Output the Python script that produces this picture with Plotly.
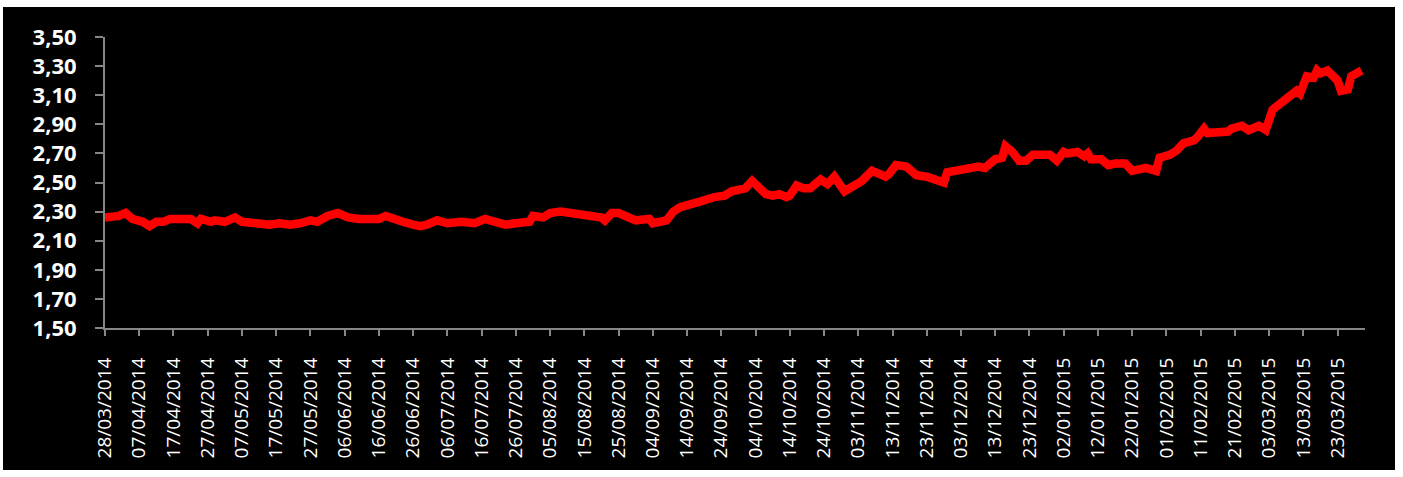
import datetime as dt
import plotly.graph_objects as go

# Series start date and day offsets of each observation
start = dt.date(2014, 3, 28)
day_offsets = [
    0, 4, 6, 8, 11, 13, 15, 17, 19, 25, 27, 28, 31, 32, 35, 38, 40, 44, 48, 51,
    54, 57, 60, 62, 65, 68, 71, 74, 80, 82, 84, 87, 90, 92,
    94, 97, 100, 104, 108, 111, 114, 117, 120, 124, 125, 128, 130, 133, 136, 140,
    145, 146, 148, 150, 155, 159, 160, 164, 166, 168, 172, 174, 178, 181, 183, 187,
    189, 191, 193, 195, 197, 199, 200, 202, 204, 206, 209, 211, 213, 216, 219, 221,
    224, 228, 229, 231, 234, 237, 240, 243, 245, 246, 250, 253, 255, 257, 260, 262,
    263, 265, 267, 269, 271, 276, 278, 280,
    281, 284, 286, 287, 288, 291, 293, 295, 298, 300, 304, 307, 308, 311, 313, 315,
    318, 319, 321, 322, 328, 329, 332, 334, 337, 339, 341, 343, 346, 348, 349, 351,
    353, 354, 355, 357, 360, 361, 363, 364, 367,
]
values = [
    2.26, 2.27, 2.29, 2.25, 2.23, 2.20, 2.23, 2.23, 2.25, 2.25, 2.22, 2.25, 2.23, 2.24, 2.23, 2.26, 2.23, 2.22, 2.21, 2.22,
    2.21, 2.22, 2.24, 2.23, 2.27, 2.29, 2.26, 2.25, 2.25, 2.27, 2.25, 2.23, 2.21, 2.20,
    2.21, 2.24, 2.22, 2.23, 2.22, 2.25, 2.23, 2.21, 2.22, 2.23, 2.27, 2.26, 2.29, 2.30, 2.29, 2.27,
    2.26, 2.24, 2.29, 2.29, 2.24, 2.25, 2.22, 2.24, 2.30, 2.33, 2.35, 2.37, 2.40, 2.41, 2.44, 2.46,
    2.51, 2.47, 2.42, 2.41, 2.42, 2.40, 2.41, 2.48, 2.46, 2.46, 2.52, 2.49, 2.54, 2.44, 2.48, 2.51,
    2.58, 2.54, 2.56, 2.62, 2.61, 2.55, 2.54, 2.52, 2.50, 2.57, 2.58, 2.60, 2.61, 2.60, 2.66, 2.67,
    2.75, 2.71, 2.65, 2.65, 2.69, 2.69, 2.65, 2.71,
    2.70, 2.71, 2.68, 2.70, 2.66, 2.66, 2.62, 2.63, 2.63, 2.58, 2.60, 2.58, 2.67, 2.69, 2.72, 2.77,
    2.79, 2.81, 2.87, 2.84, 2.85, 2.87, 2.89, 2.86, 2.89, 2.86, 3.00, 3.04, 3.09, 3.13, 3.11, 3.23,
    3.22, 3.27, 3.25, 3.27, 3.20, 3.13, 3.14, 3.23, 3.27,
]
dates = [start + dt.timedelta(days=d) for d in day_offsets]

# Axis settings
y_min, y_max, y_step = 1.5, 3.5, 0.2
x_end = start + dt.timedelta(days=368)
tick_days = 10

W, H = 1403, 477
ml, mr, mt, mb = 105, 38, 37, 149
pw, ph = W - ml - mr, H - mt - mb

fig = go.Figure()
fig.add_trace(go.Scatter(
    x=dates, y=values, mode="lines",
    line=dict(color="#FF0000", width=8.5),
    hoverinfo="skip",
))

# Black panel behind the chart, inset from the page edges
px0, px1, py0, py1 = 3, 1395, 7, 470
fig.add_shape(
    type="rect", xref="paper", yref="paper", layer="below",
    x0=(px0 - ml) / pw, x1=(px1 - ml) / pw,
    y0=(H - mb - py1) / ph, y1=(H - mb - py0) / ph,
    fillcolor="#000000", line=dict(width=0),
)

fig.update_layout(
    width=W, height=H,
    margin=dict(l=ml, r=mr, t=mt, b=mb, pad=0),
    paper_bgcolor="#FFFFFF", plot_bgcolor="#000000",
    separators=",.",
    showlegend=False,
    xaxis=dict(
        type="date", range=[start, x_end],
        tick0=start, dtick=tick_days * 86400000, tickformat="%d/%m/%Y",
        tickangle=-90, ticks="outside", ticklen=6, tickwidth=2, tickcolor="#868686",
        showline=True, linecolor="#868686", linewidth=2,
        showgrid=False, zeroline=False,
        tickfont=dict(family="Open Sans", size=19, color="#FFFFFF"),
        ticklabelstandoff=14,
    ),
    yaxis=dict(
        range=[y_min, y_max], tick0=y_min, dtick=y_step, tickformat=".2f",
        ticks="outside", ticklen=8, tickwidth=2, tickcolor="#868686",
        showline=True, linecolor="#868686", linewidth=2,
        showgrid=False, zeroline=False,
        tickfont=dict(family="Open Sans", size=22, color="#FFFFFF", weight="bold"),
        ticklabelstandoff=14,
    ),
)

fig.write_html("out.html")
